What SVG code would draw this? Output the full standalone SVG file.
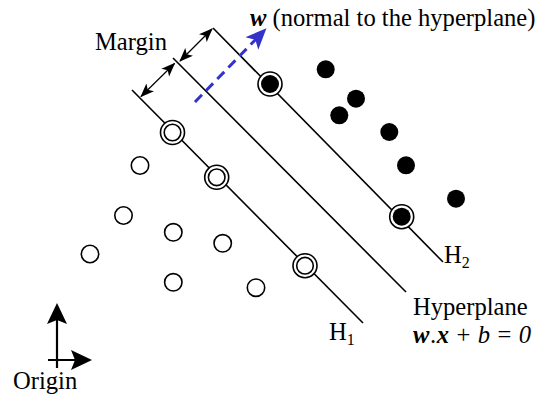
<svg xmlns="http://www.w3.org/2000/svg" width="536" height="394" viewBox="0 0 536 394">
<style>
text{font-family:"Liberation Serif","Times New Roman",serif;font-size:24.6px;fill:#000}
.ln{stroke:#000;stroke-width:1.6;fill:none}
.mg{stroke:#000;stroke-width:1.2;fill:none;marker-start:url(#ma);marker-end:url(#ma)}
.ax{stroke:#000;stroke-width:2.2;fill:none;marker-end:url(#axh)}
.o{fill:#fff;stroke:#000;stroke-width:1.6}
.f{fill:#000;stroke:none}
.sub{font-size:16px}
</style>
<defs>
<marker id="ma" markerUnits="userSpaceOnUse" markerWidth="14" markerHeight="12" viewBox="0 0 14 12" refX="13" refY="6" orient="auto-start-reverse">
<path d="M0,0.5 L14,6 L0,11.5 L3.5,6 z" fill="#000"/>
</marker>
<marker id="axh" markerUnits="userSpaceOnUse" markerWidth="22" markerHeight="22" viewBox="0 0 22 22" refX="17" refY="11" orient="auto">
<path d="M0,1 L21,11 L0,21 L4,11 z" fill="#000"/>
</marker>
<marker id="bh" markerUnits="userSpaceOnUse" markerWidth="22" markerHeight="20" viewBox="0 0 22 20" refX="11" refY="10" orient="auto">
<path d="M0,1 L21,10 L0,19 L5,10 z" fill="#3333cc"/>
</marker>
</defs>

<g id="connectors">
<line id="H1-line" class="ln" x1="132" y1="90" x2="363" y2="323"/>
<line id="hyperplane-line" class="ln" x1="173" y1="58" x2="406" y2="292"/>
<line id="H2-line" class="ln" x1="213" y1="28" x2="443" y2="262"/>
<line id="margin-1" class="mg" x1="141" y1="96.5" x2="174.5" y2="63.5"/>
<line id="margin-2" class="mg" x1="180" y1="61" x2="212" y2="29"/>
<line id="w-arrow" x1="195" y1="102" x2="259.5" y2="35.5" stroke="#3333cc" stroke-width="3" stroke-dasharray="10,6" marker-end="url(#bh)"/>
<line id="axis-y" class="ax" x1="57" y1="368" x2="57" y2="307"/>
<line id="axis-x" class="ax" x1="48" y1="360" x2="88" y2="360"/>
</g>

<g id="open-points">
<circle class="o" cx="140" cy="165.5" r="8.7"/>
<circle class="o" cx="123.5" cy="215.5" r="8.7"/>
<circle class="o" cx="90" cy="254" r="8.7"/>
<circle class="o" cx="173.3" cy="232.3" r="8.7"/>
<circle class="o" cx="222.7" cy="243.3" r="8.7"/>
<circle class="o" cx="173.3" cy="282.3" r="8.7"/>
<circle class="o" cx="256" cy="287.7" r="8.7"/>
</g>

<g id="open-support-vectors">
<g id="sv1"><circle class="o" cx="172.5" cy="132.5" r="12"/><circle class="o" cx="172.5" cy="132.5" r="8.3"/></g>
<g id="sv2"><circle class="o" cx="216.7" cy="177.3" r="12"/><circle class="o" cx="216.7" cy="177.3" r="8.3"/></g>
<g id="sv3"><circle class="o" cx="305" cy="265.7" r="12"/><circle class="o" cx="305" cy="265.7" r="8.3"/></g>
</g>

<g id="filled-points">
<circle class="f" cx="325.7" cy="69.3" r="9"/>
<circle class="f" cx="356" cy="98.7" r="9"/>
<circle class="f" cx="339.3" cy="115.3" r="9"/>
<circle class="f" cx="389.3" cy="132" r="9"/>
<circle class="f" cx="406" cy="165.3" r="9"/>
<circle class="f" cx="456" cy="198.7" r="9"/>
</g>

<g id="filled-support-vectors">
<g id="sv4"><circle class="o" cx="270" cy="84" r="12"/><circle class="f" cx="270" cy="84" r="9"/></g>
<g id="sv5"><circle class="o" cx="401.7" cy="216.7" r="12"/><circle class="f" cx="401.7" cy="216.7" r="9"/></g>
</g>

<g id="labels">
<text id="margin-label" x="95" y="50">Margin</text>
<text id="w-label" x="250" y="26"><tspan font-weight="bold" font-style="italic">w</tspan> (normal to the hyperplane)</text>
<text id="H2-label" x="444" y="263">H<tspan class="sub" dy="5">2</tspan></text>
<text id="H1-label" x="329" y="340">H<tspan class="sub" dy="5">1</tspan></text>
<text id="hyperplane-label" x="413" y="315">Hyperplane</text>
<text id="equation-label" x="413" y="343" textLength="118" lengthAdjust="spacing"><tspan font-weight="bold" font-style="italic">w</tspan>.<tspan font-weight="bold" font-style="italic">x</tspan> + <tspan font-style="italic">b</tspan> = <tspan font-style="italic">0</tspan></text>
<text id="origin-label" x="13" y="389">Origin</text>
</g>
</svg>
